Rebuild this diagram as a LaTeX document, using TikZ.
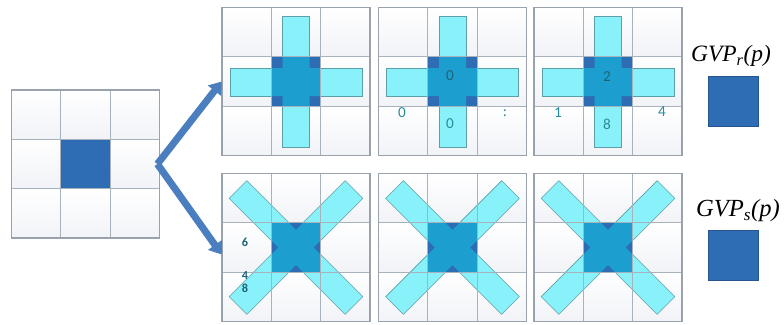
\documentclass[tikz,border=0pt]{standalone}
\usepackage{fontspec}
\newfontfamily\numfont{Carlito}
\newfontfamily\numboldfont{Carlito Bold}
\newfontfamily\gvpfont{Liberation Serif}
\usetikzlibrary{arrows.meta}

% passo della griglia (px)
\def\c{49.33}
\def\h{24.67}

% celle sfumate di una griglia 3x3 centrata nell'origine
\newcommand\gridcells{%
  \foreach \i in {-1,0,1}{\foreach \j in {-1,0,1}{
    \shade[top color=white, bottom color=colShade]
      ({\i*\c-\h},{\j*\c-\h}) rectangle +(\c,\c);}}}

% linee e cornice
\newcommand\gridlines{%
  \foreach \k in {-\h,\h}{
    \draw[gridline] (\k,-74) -- (\k,74);
    \draw[gridline] (-74,\k) -- (74,\k);}
  \draw[gridframe] (-74,-74) rectangle (74,74);}

% barre a croce
\newcommand\crosspath{(-13.5,-65) rectangle (13.5,66) (-66,-13.5) rectangle (66,14.5)}

\begin{document}
\begin{tikzpicture}[x=0.03cm, y=-0.03cm,
  gridbox/.style={minimum size=4.44cm, inner sep=0pt},
  gridline/.style={draw=colGrid, line width=0.6pt},
  gridframe/.style={draw=colFrame, line width=0.9pt},
  bar/.style={fill=colBar, draw=colBarEdge, line width=0.5pt},
  num/.style={font=\numfont\fontsize{13}{15}\selectfont, text=colNum, inner sep=0pt},
  midnum/.style={num, text=colNumDark},
  bignum/.style={num, text=colNumDark, font=\numboldfont\fontsize{10.5}{10.5}\selectfont},
  bigarrow/.style={draw=colArrow, line width=6pt,
    -{Triangle[length=10pt, width=14pt]}},
  gvp/.style={font=\gvpfont\itshape\fontsize{20}{22}\selectfont, inner sep=0pt},
  gvpbox/.style={fill=colCell, draw=colCell!80!black, minimum size=1.5cm, inner sep=0pt}]

% Colori
\definecolor{colCell}{HTML}{2E6CB3}
\definecolor{colMid}{HTML}{1C9FCF}
\definecolor{colBar}{HTML}{88F1F9}
\definecolor{colBarEdge}{HTML}{5C9FA9}
\definecolor{colGrid}{HTML}{A8B2BD}
\definecolor{colFrame}{HTML}{9AA3AD}
\definecolor{colShade}{HTML}{F1F3F7}
\definecolor{colArrow}{HTML}{4A7EBF}
\definecolor{colNum}{HTML}{2A8C98}
\definecolor{colNumDark}{HTML}{1D6478}

\useasboundingbox (0,0) rectangle (784,324);

% Griglie
\node[gridbox] (g0) at (85.5,164) {};
\node[gridbox] (ga) at (296,81.5) {};
\node[gridbox] (gb) at (452.5,81.5) {};
\node[gridbox] (gc) at (608,81.5) {};
\node[gridbox] (gd) at (296,247.5) {};
\node[gridbox] (ge) at (452.5,247.5) {};
\node[gridbox] (gf) at (608,247.5) {};

% Griglia di partenza
\begin{scope}[shift={(g0.center)}]
  \gridcells
  \fill[colCell] (-\h,-\h) rectangle (\h,\h);
  \gridlines
\end{scope}

% Maschere a croce
\foreach \g in {ga,gb,gc}{
  \begin{scope}[shift={(\g.center)}]
    \gridcells
    \draw[bar] (-13.5,-65) rectangle (13.5,66);
    \draw[bar] (-66,-13.5) rectangle (66,14.5);
    \fill[colCell] (-\h,-\h) rectangle (\h,\h);
    \begin{scope}
      \clip (-\h,-\h) rectangle (\h,\h);
      \fill[colMid] \crosspath;
    \end{scope}
    \gridlines
  \end{scope}
}

% Maschere a X
\foreach \g in {gd,ge,gf}{
  \begin{scope}[shift={(\g.center)}]
    \gridcells
    \draw[bar, rotate=45] (-82,-12.5) rectangle (82,12.5);
    \draw[bar, rotate=-45] (-82,-12.5) rectangle (82,12.5);
    \fill[colCell] (-\h,-\h) rectangle (\h,\h);
    \begin{scope}
      \clip (-\h,-\h) rectangle (\h,\h);
      \fill[colMid, rotate=45] (-82,-12.5) rectangle (82,12.5);
      \fill[colMid, rotate=-45] (-82,-12.5) rectangle (82,12.5);
    \end{scope}
    \gridlines
  \end{scope}
}

% Frecce
\draw[bigarrow] ([xshift=-2]g0.east) -- (ga.west);
\draw[bigarrow] ([xshift=-2]g0.east) -- ([yshift=-6]gd.west);

% Valori
\node[midnum] (b0) at (450,76) {0};
\node[num] (b1) at (402,113) {0};
\node[num] (b2) at (450,124) {0};
\node[num] (b3) at (505,113) {:};
\node[midnum] (c0) at (607,77) {2};
\node[num] (c1) at (558,113) {1};
\node[num] (c2) at (607,124) {8};
\node[num] (c3) at (662,112) {4};
\node[bignum] (d0) at (245,242) {6};
\node[bignum] (d1) at (245,276) {4};
\node[bignum] (d2) at (245,288.5) {8};

% Risultati
\node[gvp] (tr) at (731,56) {GVP\textsubscript{r}(p)};
\node[gvpbox] (br) at (733,101) {};
\node[gvp, font=\gvpfont\itshape\fontsize{21}{23}\selectfont] (ts) at (738,211) {GVP\textsubscript{s}(p)};
\node[gvpbox] (bs) at (733,255) {};

\end{tikzpicture}
\end{document}
